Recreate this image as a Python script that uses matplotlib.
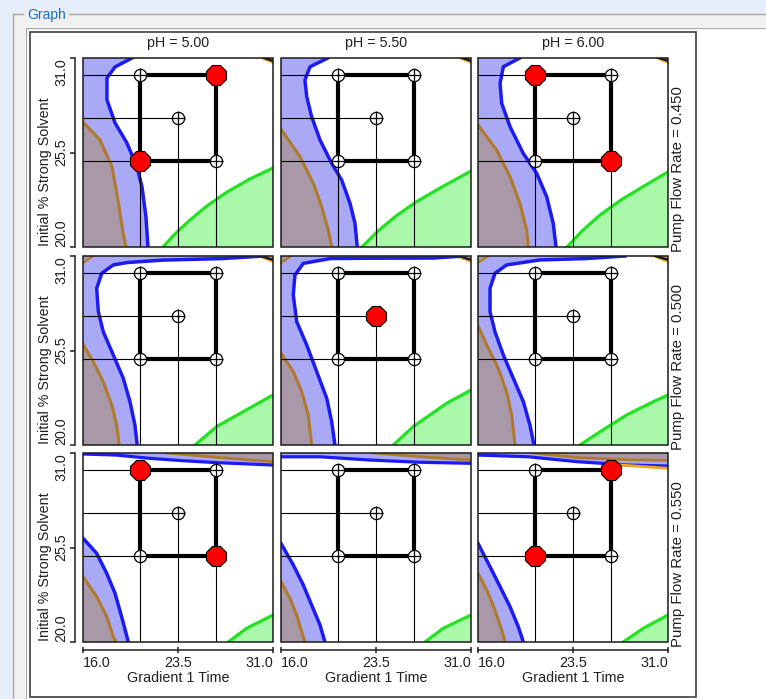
import matplotlib
matplotlib.use('Agg')
import matplotlib.pyplot as plt
from matplotlib.patches import Rectangle, Polygon
from matplotlib.lines import Line2D
import matplotlib.transforms as mtrans

plt.rcParams['font.family'] = ['Liberation Sans', 'DejaVu Sans']

W, H = 766, 699

# ---------------- data ----------------
ph_labels = ['pH = 5.00', 'pH = 5.50', 'pH = 6.00']
flow_labels = ['Pump Flow Rate = 0.450', 'Pump Flow Rate = 0.500', 'Pump Flow Rate = 0.550']
x_label = 'Gradient 1 Time'
y_label = 'Initial % Strong Solvent'
x_ticks = [16.0, 23.5, 31.0]
x_tick_labels = ['16.0', '23.5', '31.0']
y_ticks = [20.0, 25.5, 31.0]
y_tick_labels = ['20.0', '25.5', '31.0']
x_range = [16.0, 31.0]
y_range = [20.0, 31.0]

# design points: 0 BL, 1 BR, 2 TL, 3 TR, 4 centre
design_x = [20.5, 26.5, 20.5, 26.5, 23.5]
design_y = [25.0, 25.0, 30.0, 30.0, 27.5]
# design points flagged (red) in each panel, row-major
red_points = [[3, 0], [], [2, 1],
              [], [4], [],
              [2, 1], [], [3, 0]]

# blue contour (left region) per panel
blue_x = [
    [19.87, 18.53, 17.89, 17.89, 18.53, 19.47, 20.26, 20.66, 20.97, 21.13],
    [19.7, 18.29, 17.89, 18.03, 18.42, 19.08, 20.0, 20.79, 21.45, 21.84, 22.02],
    [19.3, 18.0, 17.74, 17.87, 18.53, 19.57, 20.63, 21.42, 21.94, 22.16],
    [30.3, 27.0, 22.3, 19.5, 18.39, 17.48, 17.08, 17.21, 17.6, 18.39, 19.18, 19.71, 20.1, 20.28],
    [30.5, 28.0, 23.0, 19.87, 17.76, 17.1, 16.97, 17.24, 18.03, 18.82, 19.61, 20.0, 20.26],
    [27.6, 24.5, 20.89, 18.26, 17.34, 16.95, 16.95, 17.34, 18.0, 18.79, 19.58, 20.1, 20.42],
    [16.0, 17.08, 17.87, 18.53, 19.05, 19.58],
    [16.0, 16.97, 17.76, 18.42, 19.08, 19.47],
    [16.0, 16.95, 17.74, 18.53, 19.18, 19.58],
]
blue_y = [
    [31.0, 30.48, 29.84, 28.56, 27.22, 26.05, 24.66, 23.49, 21.75, 20.0],
    [31.0, 30.49, 29.72, 28.75, 27.58, 26.23, 24.87, 23.9, 22.54, 21.38, 20.0],
    [31.0, 30.49, 29.53, 28.36, 27.0, 25.45, 24.29, 22.93, 21.38, 20.0],
    [31.0, 30.85, 30.76, 30.62, 30.48, 29.99, 29.12, 27.76, 26.59, 25.24, 23.88, 22.52, 21.16, 20.0],
    [31.0, 30.88, 30.87, 30.85, 30.57, 29.89, 28.73, 27.18, 25.82, 24.27, 22.72, 21.36, 20.0],
    [31.0, 30.85, 30.77, 30.48, 29.99, 29.12, 27.76, 26.59, 25.24, 23.88, 22.52, 21.16, 20.0],
    [26.04, 25.16, 24.0, 22.83, 21.47, 20.0],
    [25.74, 24.48, 23.32, 22.15, 20.99, 20.0],
    [25.74, 24.38, 23.22, 22.05, 20.89, 20.0],
]
# brown contour (left region) per panel
brown_x = [
    [16.0, 17.34, 18.29, 18.76, 19.16, 19.39],
    [16.0, 17.5, 18.55, 19.21, 19.73, 20.0],
    [16.0, 17.47, 18.53, 19.31, 19.84, 19.97],
    [16.0, 16.81, 17.6, 18.27, 18.66, 18.86],
    [16.0, 16.97, 17.63, 18.15, 18.42],
    [16.0, 16.69, 17.6, 18.26, 18.66, 18.92],
    [16.0, 17.08, 17.87, 18.39, 18.6],
    [16.0, 16.71, 17.24, 17.63, 17.89],
    [16.0, 16.69, 17.34, 17.87, 18.13],
]
brown_y = [
    [27.27, 26.23, 24.66, 22.74, 20.82, 20.0],
    [26.85, 25.26, 23.71, 22.35, 20.99, 20.0],
    [27.1, 25.64, 24.09, 22.54, 20.99, 20.0],
    [25.85, 24.85, 23.68, 22.33, 21.16, 20.0],
    [25.35, 24.27, 23.1, 21.75, 20.0],
    [26.95, 25.82, 24.46, 23.1, 21.75, 20.0],
    [23.8, 22.64, 21.47, 20.31, 20.0],
    [23.51, 22.54, 21.57, 20.6, 20.0],
    [24.0, 23.03, 21.86, 20.7, 20.0],
]
# green contour (lower-right region) per panel
green_x = [
    [22.32, 23.26, 24.45, 25.79, 27.37, 29.18, 31.0],
    [22.39, 23.66, 25.08, 26.66, 28.55, 31.0],
    [23.03, 24.21, 25.63, 27.29, 29.11, 31.0],
    [24.84, 26.55, 28.65, 31.0],
    [24.87, 26.44, 29.08, 31.0],
    [24.05, 25.63, 27.74, 29.84, 31.0],
    [27.47, 28.92, 31.0],
    [27.37, 28.81, 31.0],
    [27.47, 29.05, 31.0],
]
green_y = [
    [20.0, 20.76, 21.57, 22.39, 23.2, 23.96, 24.6],
    [20.0, 20.93, 21.8, 22.62, 23.43, 24.42],
    [20.0, 20.93, 21.86, 22.74, 23.55, 24.37],
    [20.0, 21.07, 21.94, 22.91],
    [20.0, 21.07, 22.43, 23.2],
    [20.0, 20.77, 21.75, 22.52, 22.91],
    [20.0, 20.8, 21.57],
    [20.0, 20.8, 21.57],
    [20.0, 20.8, 21.57],
]
# top bands (bottom row only)
top_blue_x = [[16.0, 18.63, 21.27, 23.9, 26.52, 31.0],
              [16.0, 19.08, 23.03, 26.97, 31.0],
              [16.0, 19.95, 23.9, 27.84, 31.0]]
top_blue_y = [[30.94, 30.88, 30.69, 30.55, 30.44, 30.3],
              [30.78, 30.78, 30.59, 30.46, 30.4],
              [30.88, 30.78, 30.49, 30.3, 30.24]]
top_brown_x = [[22.58, 26.52, 31.0],
               [23.3, 27.0, 31.0],
               [20.34, 23.9, 27.84, 31.0]]
top_brown_y = [[31.0, 30.75, 30.49],
               [31.0, 30.78, 30.59],
               [31.0, 30.73, 30.61, 30.57]]
orange_x = [27.3, 31.0]
orange_y = [30.3, 30.11]
# small top-right corner wedges (rows 1 and 2)
corner_x = [[29.9, 31.0], [29.6, 31.0]]
corner_y = [[31.0, 30.65], [31.0, 30.6]]

# ---------------- style ----------------
LAV = '#a9a9f6'
BLUE = '#1c1cf2'
MAUVE = '#a898a8'
BROWN = '#b07a2a'
GFILL = '#aaf8aa'
GLINE = '#22e222'
ORANGE = '#f2a414'
FS = 10.3

col_left = [83, 281, 478]
row_top = [58, 256, 453]
PW, PH = 190, 189

fig = plt.figure(figsize=(W / 100, H / 100), dpi=100)
fig.patch.set_facecolor('#e6eef9')
PX = mtrans.Affine2D().scale(1.0 / W, -1.0 / H).translate(0, 1) + fig.transFigure

def prect(x0, y0, x1, y1, z, **kw):
    r = Rectangle((x0, y0), x1 - x0, y1 - y0, transform=PX, zorder=z, **kw)
    fig.patches.append(r)

def pline(xs, ys, z, **kw):
    fig.add_artist(Line2D(xs, ys, transform=PX, zorder=z, **kw))

# window chrome (below the axes)
prect(12, 13, 770, 705, -10, facecolor='#f0f0f0', edgecolor='none')
pline([12.5, 12.5], [13.5, 699], -9, color='#a8a8a8', lw=1.0)
pline([12.5, 23], [13.5, 13.5], -9, color='#a8a8a8', lw=1.0)
pline([69, 766], [13.5, 13.5], -9, color='#a8a8a8', lw=1.0)
prect(25, 27, 770, 705, -8, facecolor='white', edgecolor='none')
pline([25.5, 25.5], [27.5, 699], -7, color='#a8a8a8', lw=0.9)
pline([25.5, 766], [27.5, 27.5], -7, color='#a8a8a8', lw=0.9)
prect(29.5, 31.5, 695.5, 696.5, -6, facecolor='white', edgecolor='#404040', lw=1.2)
fig.text(27, 15.5, 'Graph', transform=PX, ha='left', va='center',
         fontsize=10, color='#1570c8')

def add_poly(ax, xs, ys, extra, color):
    verts = list(zip(xs, ys)) + extra
    ax.add_patch(Polygon(verts, closed=True, facecolor=color, edgecolor='none', zorder=1))

for r in range(3):
    for c in range(3):
        i = r * 3 + c
        ax = fig.add_axes([col_left[c] / W, 1 - (row_top[r] + PH) / H, PW / W, PH / H])
        ax.set_xlim(*x_range)
        ax.set_ylim(*y_range)
        ax.set_facecolor('white')
        for s in ax.spines.values():
            s.set_visible(False)
        ax.add_patch(Rectangle((0, 0), 1, 1, transform=ax.transAxes, fill=False,
                               edgecolor='#1a1a1a', lw=1.1, zorder=10, clip_on=False))

        # left region (lavender) bounded by blue line
        bx, by = blue_x[i], blue_y[i]
        extra = [(x_range[0], y_range[0])]
        if by[0] >= y_range[1]:
            extra.append((x_range[0], y_range[1]))
        add_poly(ax, bx, by, extra, LAV)
        # brown region
        add_poly(ax, brown_x[i], brown_y[i], [(x_range[0], y_range[0])], MAUVE)
        # green region
        add_poly(ax, green_x[i], green_y[i], [(x_range[1], y_range[0])], GFILL)

        if r == 2:
            tbx, tby = top_blue_x[c], top_blue_y[c]
            add_poly(ax, tbx, tby, [(x_range[1], y_range[1]), (x_range[0], y_range[1])], LAV)
            trx, try_ = top_brown_x[c], top_brown_y[c]
            add_poly(ax, trx, try_, [(x_range[1], y_range[1])], MAUVE)
            ax.plot(trx, try_, color=BROWN, lw=2.0, zorder=2)
            ax.plot(tbx, tby, color=BLUE, lw=2.3, zorder=2)
            if c == 2:
                ax.plot(orange_x, orange_y, color=ORANGE, lw=2.0, zorder=2)
        else:
            cx, cy = corner_x[r], corner_y[r]
            add_poly(ax, cx, cy, [(x_range[1], y_range[1])], ORANGE)
            ax.plot([cx[0] + 0.4, x_range[1]], [y_range[1], cy[1] + 0.18], color='#101040', lw=1.6, zorder=2)
            if r == 1:
                add_poly(ax, [16.0, 16.8], [30.6, 31.0], [(16.0, 31.0)], MAUVE)
                ax.plot([16.0, 16.8], [30.6, 31.0], color=BROWN, lw=1.6, zorder=2)

        ax.plot(brown_x[i], brown_y[i], color=BROWN, lw=2.2, zorder=2,
                solid_joinstyle='round')
        ax.plot(bx, by, color=BLUE, lw=2.5, zorder=2, solid_joinstyle='round')
        ax.plot(green_x[i], green_y[i], color=GLINE, lw=2.3, zorder=2,
                solid_joinstyle='round')

        # design: projection lines
        hk = [2, 4, 0]
        ax.hlines([design_y[k] for k in hk], x_range[0], [design_x[k] for k in hk],
                  color='black', lw=0.8, zorder=3)
        vk = [0, 1, 4]
        ax.vlines([design_x[k] for k in vk], y_range[0], [design_y[k] for k in vk],
                  color='black', lw=0.8, zorder=3)
        sq = [0, 1, 3, 2, 0]
        ax.plot([design_x[k] for k in sq], [design_y[k] for k in sq], color='black',
                lw=3.0, solid_joinstyle='miter', zorder=4)
        opn = [k for k in range(5) if k not in red_points[i]]
        ax.plot([design_x[k] for k in opn], [design_y[k] for k in opn], 'o', ms=8.8,
                mfc='white', mec='black', mew=0.9, zorder=5)
        ax.plot([design_x[k] for k in opn], [design_y[k] for k in opn], '+', ms=9.4,
                mec='black', mew=0.9, zorder=6)
        red = red_points[i]
        if red:
            ax.plot([design_x[k] for k in red], [design_y[k] for k in red], '8', ms=16,
                    mfc='#ff0000', mec='black', mew=0.8, zorder=7)

        # axes
        if c == 0:
            sp = ax.spines['left']
            sp.set_visible(True)
            sp.set_position(('outward', 5.8))
            sp.set_bounds(*y_range)
            sp.set_linewidth(1.1)
            sp.set_color('#202020')
            ax.set_yticks(y_ticks)
            ax.set_yticklabels(y_tick_labels, rotation=90, fontsize=FS)
            for lab, va in zip(ax.get_yticklabels(), ['bottom', 'center', 'top']):
                lab.set_va(va)
            ax.tick_params(axis='y', direction='out', length=3.6, width=1.1,
                           pad=1.0, color='#202020', labelcolor='#202020')
        else:
            ax.set_yticks([])
        if r == 2:
            sp = ax.spines['bottom']
            sp.set_visible(True)
            sp.set_position(('outward', 5.8))
            sp.set_bounds(*x_range)
            sp.set_linewidth(1.1)
            sp.set_color('#202020')
            ax.set_xticks(x_ticks)
            ax.set_xticklabels(x_tick_labels, fontsize=FS)
            for lab, ha in zip(ax.get_xticklabels(), ['left', 'center', 'right']):
                lab.set_ha(ha)
            ax.tick_params(axis='x', direction='inout', length=4.6, width=1.1,
                           pad=2.0, color='#202020', labelcolor='#202020')
            fig.text(col_left[c] + PW / 2, 671, x_label, transform=PX, ha='center',
                     va='top', fontsize=FS, color='#202020')
        else:
            ax.set_xticks([])

for c in range(3):
    fig.text(col_left[c] + PW / 2, 47.5, ph_labels[c], transform=PX, ha='center',
             va='baseline', fontsize=FS, color='#202020')
for r in range(3):
    bottom = row_top[r] + PH
    fig.text(678, bottom + 5, flow_labels[r], transform=PX, ha='center', va='bottom',
             rotation=90, fontsize=10.8, color='#202020')
    fig.text(45, bottom - 1, y_label, transform=PX, ha='center', va='bottom',
             rotation=90, fontsize=FS, color='#202020')

fig.savefig('out.png', dpi=100, facecolor=fig.get_facecolor())
